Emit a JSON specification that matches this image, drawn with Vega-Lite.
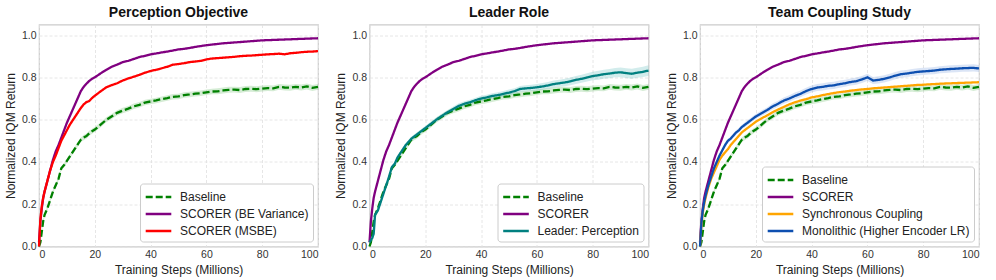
{
  "$schema": "https://vega.github.io/schema/vega-lite/v6.json",
  "padding": {"left": 3, "top": 4.5, "right": 14, "bottom": 2},
  "spacing": 51.5,
  "bounds": "flush",
  "config": {
    "font": "Liberation Sans",
    "view": {"stroke": "#cccccc", "strokeWidth": 1.2},
    "axis": {
      "grid": true, "gridColor": "#e0e0e0", "gridDash": [3, 2], "gridWidth": 0.8,
      "domain": false, "ticks": false, "labelFontSize": 10.5, "labelColor": "#333333",
      "labelPadding": 3, "titleFontSize": 12, "titleFontWeight": "normal", "titleColor": "#222222"
    },
    "title": {"fontSize": 14, "fontWeight": "bold", "color": "#111111", "offset": 5},
    "legend": {
      "orient": "bottom-right", "offset": 5, "fillColor": "white", "strokeColor": "#cccccc",
      "cornerRadius": 3, "padding": 4, "labelFontSize": 12, "labelColor": "#222222",
      "symbolType": "M-1.6,0H1.6", "symbolSize": 256, "symbolStrokeWidth": 2.5, "rowPadding": 1,
      "symbolOffset": 5, "labelOffset": 12, "title": null, "labelLimit": 250
    }
  },
  "datasets": {
    "d": [
      {"x":0,"base":0,"bl":0,"bh":0.005,"scorer":0.02,"msbe":0,"leader":0.02,"ll":0.015,"lh":0.025,"sync":0,"mono":0,"ml":0,"mh":0.006},
      {"x":0.5,"base":0.02,"bl":0.012,"bh":0.028,"scorer":0.12,"msbe":0.13,"leader":0.03,"ll":0.022,"lh":0.038,"sync":0.1,"mono":0.11,"ml":0.1,"mh":0.12},
      {"x":1,"base":0.07,"bl":0.06,"bh":0.08,"scorer":0.18,"msbe":0.19,"leader":0.04,"ll":0.03,"lh":0.05,"sync":0.16,"mono":0.17,"ml":0.16,"mh":0.18},
      {"x":1.5,"base":0.12,"bl":0.11,"bh":0.13,"scorer":0.23,"msbe":0.23,"leader":0.06,"ll":0.05,"lh":0.07,"sync":0.2,"mono":0.21,"ml":0.2,"mh":0.22},
      {"x":2,"base":0.15,"bl":0.14,"bh":0.16,"scorer":0.26,"msbe":0.26,"leader":0.15,"ll":0.14,"lh":0.16,"sync":0.23,"mono":0.24,"ml":0.23,"mh":0.25},
      {"x":3,"base":0.18,"bl":0.17,"bh":0.19,"scorer":0.31,"msbe":0.31,"leader":0.17,"ll":0.16,"lh":0.18,"sync":0.28,"mono":0.29,"ml":0.28,"mh":0.3},
      {"x":4,"base":0.22,"bl":0.21,"bh":0.23,"scorer":0.36,"msbe":0.36,"leader":0.21,"ll":0.2,"lh":0.22,"sync":0.32,"mono":0.33,"ml":0.32,"mh":0.34},
      {"x":5,"base":0.26,"bl":0.25,"bh":0.27,"scorer":0.41,"msbe":0.4,"leader":0.25,"ll":0.24,"lh":0.26,"sync":0.35,"mono":0.37,"ml":0.36,"mh":0.38},
      {"x":6,"base":0.29,"bl":0.28,"bh":0.3,"scorer":0.45,"msbe":0.43,"leader":0.29,"ll":0.28,"lh":0.3,"sync":0.38,"mono":0.4,"ml":0.39,"mh":0.41},
      {"x":7,"base":0.32,"bl":0.31,"bh":0.33,"scorer":0.48,"msbe":0.465,"leader":0.33,"ll":0.32,"lh":0.34,"sync":0.41,"mono":0.43,"ml":0.42,"mh":0.44},
      {"x":8,"base":0.37,"bl":0.36,"bh":0.38,"scorer":0.515,"msbe":0.5,"leader":0.375,"ll":0.365,"lh":0.385,"sync":0.43,"mono":0.455,"ml":0.445,"mh":0.465},
      {"x":9,"base":0.385,"bl":0.375,"bh":0.395,"scorer":0.55,"msbe":0.525,"leader":0.39,"ll":0.38,"lh":0.4,"sync":0.445,"mono":0.48,"ml":0.47,"mh":0.49},
      {"x":10,"base":0.405,"bl":0.395,"bh":0.415,"scorer":0.585,"msbe":0.55,"leader":0.42,"ll":0.41,"lh":0.43,"sync":0.46,"mono":0.5,"ml":0.49,"mh":0.51},
      {"x":11,"base":0.425,"bl":0.414,"bh":0.436,"scorer":0.615,"msbe":0.575,"leader":0.44,"ll":0.43,"lh":0.45,"sync":0.48,"mono":0.51,"ml":0.5,"mh":0.52},
      {"x":12,"base":0.445,"bl":0.434,"bh":0.456,"scorer":0.645,"msbe":0.595,"leader":0.46,"ll":0.45,"lh":0.47,"sync":0.495,"mono":0.525,"ml":0.514,"mh":0.536},
      {"x":13,"base":0.465,"bl":0.454,"bh":0.476,"scorer":0.675,"msbe":0.615,"leader":0.48,"ll":0.47,"lh":0.49,"sync":0.51,"mono":0.54,"ml":0.529,"mh":0.551},
      {"x":14,"base":0.485,"bl":0.474,"bh":0.496,"scorer":0.705,"msbe":0.635,"leader":0.495,"ll":0.485,"lh":0.505,"sync":0.525,"mono":0.55,"ml":0.539,"mh":0.561},
      {"x":15,"base":0.505,"bl":0.494,"bh":0.516,"scorer":0.735,"msbe":0.655,"leader":0.51,"ll":0.5,"lh":0.52,"sync":0.54,"mono":0.565,"ml":0.554,"mh":0.576},
      {"x":16,"base":0.515,"bl":0.503,"bh":0.527,"scorer":0.755,"msbe":0.672,"leader":0.52,"ll":0.51,"lh":0.53,"sync":0.55,"mono":0.575,"ml":0.563,"mh":0.587},
      {"x":17,"base":0.522,"bl":0.51,"bh":0.534,"scorer":0.77,"msbe":0.683,"leader":0.53,"ll":0.52,"lh":0.54,"sync":0.56,"mono":0.585,"ml":0.573,"mh":0.597},
      {"x":18,"base":0.535,"bl":0.523,"bh":0.547,"scorer":0.783,"msbe":0.688,"leader":0.54,"ll":0.53,"lh":0.55,"sync":0.57,"mono":0.595,"ml":0.583,"mh":0.607},
      {"x":19,"base":0.545,"bl":0.533,"bh":0.557,"scorer":0.793,"msbe":0.702,"leader":0.55,"ll":0.54,"lh":0.56,"sync":0.58,"mono":0.605,"ml":0.593,"mh":0.617},
      {"x":20,"base":0.553,"bl":0.541,"bh":0.565,"scorer":0.8,"msbe":0.713,"leader":0.56,"ll":0.55,"lh":0.57,"sync":0.59,"mono":0.615,"ml":0.603,"mh":0.627},
      {"x":22,"base":0.575,"bl":0.563,"bh":0.587,"scorer":0.818,"msbe":0.733,"leader":0.58,"ll":0.569,"lh":0.591,"sync":0.605,"mono":0.63,"ml":0.617,"mh":0.643},
      {"x":24,"base":0.598,"bl":0.586,"bh":0.61,"scorer":0.835,"msbe":0.752,"leader":0.6,"ll":0.589,"lh":0.611,"sync":0.62,"mono":0.645,"ml":0.632,"mh":0.658},
      {"x":26,"base":0.615,"bl":0.603,"bh":0.627,"scorer":0.85,"msbe":0.763,"leader":0.618,"ll":0.607,"lh":0.629,"sync":0.635,"mono":0.662,"ml":0.648,"mh":0.676},
      {"x":28,"base":0.632,"bl":0.62,"bh":0.644,"scorer":0.86,"msbe":0.772,"leader":0.635,"ll":0.624,"lh":0.646,"sync":0.648,"mono":0.675,"ml":0.661,"mh":0.689},
      {"x":30,"base":0.643,"bl":0.63,"bh":0.656,"scorer":0.872,"msbe":0.785,"leader":0.65,"ll":0.638,"lh":0.662,"sync":0.66,"mono":0.69,"ml":0.675,"mh":0.705},
      {"x":32,"base":0.652,"bl":0.639,"bh":0.665,"scorer":0.878,"msbe":0.795,"leader":0.665,"ll":0.653,"lh":0.677,"sync":0.672,"mono":0.7,"ml":0.685,"mh":0.715},
      {"x":34,"base":0.663,"bl":0.65,"bh":0.676,"scorer":0.887,"msbe":0.803,"leader":0.675,"ll":0.663,"lh":0.687,"sync":0.682,"mono":0.712,"ml":0.696,"mh":0.728},
      {"x":36,"base":0.67,"bl":0.657,"bh":0.683,"scorer":0.896,"msbe":0.812,"leader":0.682,"ll":0.67,"lh":0.694,"sync":0.69,"mono":0.722,"ml":0.706,"mh":0.738},
      {"x":38,"base":0.681,"bl":0.668,"bh":0.694,"scorer":0.902,"msbe":0.822,"leader":0.692,"ll":0.68,"lh":0.704,"sync":0.697,"mono":0.735,"ml":0.719,"mh":0.751},
      {"x":40,"base":0.686,"bl":0.673,"bh":0.699,"scorer":0.909,"msbe":0.83,"leader":0.7,"ll":0.687,"lh":0.713,"sync":0.705,"mono":0.745,"ml":0.728,"mh":0.762},
      {"x":42,"base":0.691,"bl":0.678,"bh":0.704,"scorer":0.913,"msbe":0.836,"leader":0.705,"ll":0.692,"lh":0.718,"sync":0.71,"mono":0.752,"ml":0.735,"mh":0.769},
      {"x":44,"base":0.697,"bl":0.684,"bh":0.71,"scorer":0.918,"msbe":0.843,"leader":0.712,"ll":0.699,"lh":0.725,"sync":0.716,"mono":0.755,"ml":0.738,"mh":0.772},
      {"x":46,"base":0.702,"bl":0.689,"bh":0.715,"scorer":0.922,"msbe":0.85,"leader":0.716,"ll":0.702,"lh":0.73,"sync":0.721,"mono":0.76,"ml":0.743,"mh":0.777},
      {"x":48,"base":0.708,"bl":0.695,"bh":0.721,"scorer":0.927,"msbe":0.86,"leader":0.722,"ll":0.708,"lh":0.736,"sync":0.726,"mono":0.762,"ml":0.745,"mh":0.779},
      {"x":50,"base":0.71,"bl":0.697,"bh":0.723,"scorer":0.932,"msbe":0.863,"leader":0.728,"ll":0.714,"lh":0.742,"sync":0.73,"mono":0.768,"ml":0.751,"mh":0.785},
      {"x":52,"base":0.716,"bl":0.703,"bh":0.729,"scorer":0.935,"msbe":0.867,"leader":0.735,"ll":0.721,"lh":0.749,"sync":0.733,"mono":0.772,"ml":0.755,"mh":0.789},
      {"x":54,"base":0.719,"bl":0.706,"bh":0.732,"scorer":0.939,"msbe":0.872,"leader":0.745,"ll":0.731,"lh":0.759,"sync":0.737,"mono":0.778,"ml":0.761,"mh":0.795},
      {"x":56,"base":0.723,"bl":0.71,"bh":0.736,"scorer":0.944,"msbe":0.875,"leader":0.748,"ll":0.733,"lh":0.763,"sync":0.74,"mono":0.782,"ml":0.765,"mh":0.799},
      {"x":58,"base":0.725,"bl":0.712,"bh":0.738,"scorer":0.948,"msbe":0.878,"leader":0.75,"ll":0.735,"lh":0.765,"sync":0.743,"mono":0.79,"ml":0.773,"mh":0.807},
      {"x":60,"base":0.729,"bl":0.716,"bh":0.742,"scorer":0.952,"msbe":0.885,"leader":0.753,"ll":0.738,"lh":0.768,"sync":0.745,"mono":0.8,"ml":0.783,"mh":0.817},
      {"x":62,"base":0.733,"bl":0.72,"bh":0.746,"scorer":0.955,"msbe":0.889,"leader":0.757,"ll":0.741,"lh":0.773,"sync":0.748,"mono":0.785,"ml":0.768,"mh":0.802},
      {"x":64,"base":0.734,"bl":0.72,"bh":0.748,"scorer":0.958,"msbe":0.891,"leader":0.762,"ll":0.746,"lh":0.778,"sync":0.75,"mono":0.788,"ml":0.771,"mh":0.805},
      {"x":66,"base":0.738,"bl":0.724,"bh":0.752,"scorer":0.961,"msbe":0.893,"leader":0.768,"ll":0.751,"lh":0.785,"sync":0.752,"mono":0.793,"ml":0.776,"mh":0.81},
      {"x":68,"base":0.741,"bl":0.727,"bh":0.755,"scorer":0.963,"msbe":0.895,"leader":0.772,"ll":0.755,"lh":0.789,"sync":0.754,"mono":0.8,"ml":0.783,"mh":0.817},
      {"x":70,"base":0.742,"bl":0.728,"bh":0.756,"scorer":0.965,"msbe":0.897,"leader":0.776,"ll":0.758,"lh":0.794,"sync":0.756,"mono":0.808,"ml":0.791,"mh":0.825},
      {"x":72,"base":0.74,"bl":0.726,"bh":0.754,"scorer":0.967,"msbe":0.9,"leader":0.781,"ll":0.763,"lh":0.799,"sync":0.758,"mono":0.815,"ml":0.798,"mh":0.832},
      {"x":74,"base":0.745,"bl":0.731,"bh":0.759,"scorer":0.969,"msbe":0.902,"leader":0.788,"ll":0.769,"lh":0.807,"sync":0.76,"mono":0.818,"ml":0.801,"mh":0.835},
      {"x":76,"base":0.746,"bl":0.732,"bh":0.76,"scorer":0.971,"msbe":0.903,"leader":0.793,"ll":0.774,"lh":0.812,"sync":0.762,"mono":0.822,"ml":0.805,"mh":0.839},
      {"x":78,"base":0.744,"bl":0.73,"bh":0.758,"scorer":0.973,"msbe":0.905,"leader":0.8,"ll":0.78,"lh":0.82,"sync":0.764,"mono":0.826,"ml":0.809,"mh":0.843},
      {"x":80,"base":0.747,"bl":0.733,"bh":0.761,"scorer":0.975,"msbe":0.907,"leader":0.806,"ll":0.786,"lh":0.826,"sync":0.765,"mono":0.828,"ml":0.811,"mh":0.845},
      {"x":82,"base":0.749,"bl":0.735,"bh":0.763,"scorer":0.976,"msbe":0.909,"leader":0.81,"ll":0.789,"lh":0.831,"sync":0.767,"mono":0.83,"ml":0.813,"mh":0.847},
      {"x":84,"base":0.748,"bl":0.734,"bh":0.762,"scorer":0.977,"msbe":0.91,"leader":0.815,"ll":0.794,"lh":0.836,"sync":0.768,"mono":0.832,"ml":0.815,"mh":0.849},
      {"x":86,"base":0.755,"bl":0.741,"bh":0.769,"scorer":0.978,"msbe":0.912,"leader":0.818,"ll":0.796,"lh":0.84,"sync":0.77,"mono":0.836,"ml":0.819,"mh":0.853},
      {"x":88,"base":0.752,"bl":0.738,"bh":0.766,"scorer":0.979,"msbe":0.909,"leader":0.822,"ll":0.8,"lh":0.844,"sync":0.771,"mono":0.838,"ml":0.821,"mh":0.855},
      {"x":90,"base":0.751,"bl":0.737,"bh":0.765,"scorer":0.98,"msbe":0.914,"leader":0.824,"ll":0.801,"lh":0.847,"sync":0.772,"mono":0.84,"ml":0.823,"mh":0.857},
      {"x":92,"base":0.755,"bl":0.741,"bh":0.769,"scorer":0.981,"msbe":0.916,"leader":0.82,"ll":0.797,"lh":0.843,"sync":0.773,"mono":0.841,"ml":0.824,"mh":0.858},
      {"x":94,"base":0.752,"bl":0.738,"bh":0.766,"scorer":0.982,"msbe":0.919,"leader":0.817,"ll":0.793,"lh":0.841,"sync":0.774,"mono":0.843,"ml":0.826,"mh":0.86},
      {"x":96,"base":0.757,"bl":0.743,"bh":0.771,"scorer":0.983,"msbe":0.921,"leader":0.822,"ll":0.798,"lh":0.846,"sync":0.775,"mono":0.844,"ml":0.827,"mh":0.861},
      {"x":98,"base":0.75,"bl":0.736,"bh":0.764,"scorer":0.984,"msbe":0.922,"leader":0.826,"ll":0.802,"lh":0.85,"sync":0.776,"mono":0.845,"ml":0.828,"mh":0.862},
      {"x":100,"base":0.755,"bl":0.741,"bh":0.769,"scorer":0.985,"msbe":0.924,"leader":0.832,"ll":0.807,"lh":0.857,"sync":0.777,"mono":0.842,"ml":0.825,"mh":0.859}
    ]
  },
  "hconcat": [
    {
      "width": 279, "height": 222,
      "title": "Perception Objective",
      "data": {"name": "d"},
      "layer": [
        {
          "mark": {"type": "area", "color": "#2ca02c", "opacity": 0.2},
          "encoding": {
            "x": {"field": "x", "type": "quantitative", "scale": {"domain": [0, 100], "nice": false}, "axis": {"title": "Training Steps (Millions)", "values": [0, 20, 40, 60, 80, 100]}},
            "y": {"field": "bl", "type": "quantitative", "scale": {"domain": [0, 1.05], "nice": false}, "axis": {"title": "Normalized IQM Return", "values": [0, 0.2, 0.4, 0.6, 0.8, 1.0], "format": ".1f"}},
            "y2": {"field": "bh"}
          }
        },
        {
          "transform": [{"fold": ["base", "scorer", "msbe"], "as": ["s", "v"]}],
          "mark": {"type": "line", "strokeWidth": 2.3},
          "encoding": {
            "x": {"field": "x", "type": "quantitative"},
            "y": {"field": "v", "type": "quantitative"},
            "color": {"field": "s", "type": "nominal", "scale": {"domain": ["base", "scorer", "msbe"], "range": ["#008000", "#800080", "#ff0000"]},
              "legend": {"labelExpr": "datum.label == 'base' ? 'Baseline' : datum.label == 'scorer' ? 'SCORER (BE Variance)' : 'SCORER (MSBE)'"}},
            "strokeDash": {"field": "s", "type": "nominal", "scale": {"domain": ["base", "scorer", "msbe"], "range": [[7, 3], [1, 0], [1, 0]]},
              "legend": {"labelExpr": "datum.label == 'base' ? 'Baseline' : datum.label == 'scorer' ? 'SCORER (BE Variance)' : 'SCORER (MSBE)'"}}
          }
        }
      ]
    },
    {
      "width": 279, "height": 222,
      "title": "Leader Role",
      "data": {"name": "d"},
      "layer": [
        {
          "mark": {"type": "area", "color": "#2ca02c", "opacity": 0.2},
          "encoding": {
            "x": {"field": "x", "type": "quantitative", "scale": {"domain": [0, 100], "nice": false}, "axis": {"title": "Training Steps (Millions)", "values": [0, 20, 40, 60, 80, 100]}},
            "y": {"field": "bl", "type": "quantitative", "scale": {"domain": [0, 1.05], "nice": false}, "axis": {"title": "Normalized IQM Return", "values": [0, 0.2, 0.4, 0.6, 0.8, 1.0], "format": ".1f"}},
            "y2": {"field": "bh"}
          }
        },
        {
          "mark": {"type": "area", "color": "#20a0a0", "opacity": 0.2},
          "encoding": {
            "x": {"field": "x", "type": "quantitative"},
            "y": {"field": "ll", "type": "quantitative"},
            "y2": {"field": "lh"}
          }
        },
        {
          "transform": [{"fold": ["base", "scorer", "leader"], "as": ["s", "v"]}],
          "mark": {"type": "line", "strokeWidth": 2.3},
          "encoding": {
            "x": {"field": "x", "type": "quantitative"},
            "y": {"field": "v", "type": "quantitative"},
            "color": {"field": "s", "type": "nominal", "scale": {"domain": ["base", "scorer", "leader"], "range": ["#008000", "#800080", "#008080"]},
              "legend": {"labelExpr": "datum.label == 'base' ? 'Baseline' : datum.label == 'scorer' ? 'SCORER' : 'Leader: Perception'"}},
            "strokeDash": {"field": "s", "type": "nominal", "scale": {"domain": ["base", "scorer", "leader"], "range": [[7, 3], [1, 0], [1, 0]]},
              "legend": {"labelExpr": "datum.label == 'base' ? 'Baseline' : datum.label == 'scorer' ? 'SCORER' : 'Leader: Perception'"}}
          }
        }
      ]
    },
    {
      "width": 279, "height": 222,
      "title": "Team Coupling Study",
      "data": {"name": "d"},
      "layer": [
        {
          "mark": {"type": "area", "color": "#2ca02c", "opacity": 0.2},
          "encoding": {
            "x": {"field": "x", "type": "quantitative", "scale": {"domain": [0, 100], "nice": false}, "axis": {"title": "Training Steps (Millions)", "values": [0, 20, 40, 60, 80, 100]}},
            "y": {"field": "bl", "type": "quantitative", "scale": {"domain": [0, 1.05], "nice": false}, "axis": {"title": "Normalized IQM Return", "values": [0, 0.2, 0.4, 0.6, 0.8, 1.0], "format": ".1f"}},
            "y2": {"field": "bh"}
          }
        },
        {
          "mark": {"type": "area", "color": "#4a7fd0", "opacity": 0.2},
          "encoding": {
            "x": {"field": "x", "type": "quantitative"},
            "y": {"field": "ml", "type": "quantitative"},
            "y2": {"field": "mh"}
          }
        },
        {
          "transform": [{"fold": ["base", "scorer", "sync", "mono"], "as": ["s", "v"]}],
          "mark": {"type": "line", "strokeWidth": 2.3},
          "encoding": {
            "x": {"field": "x", "type": "quantitative"},
            "y": {"field": "v", "type": "quantitative"},
            "color": {"field": "s", "type": "nominal", "scale": {"domain": ["base", "scorer", "sync", "mono"], "range": ["#008000", "#800080", "#ffa500", "#0d4fb0"]},
              "legend": {"labelExpr": "datum.label == 'base' ? 'Baseline' : datum.label == 'scorer' ? 'SCORER' : datum.label == 'sync' ? 'Synchronous Coupling' : 'Monolithic (Higher Encoder LR)'"}},
            "strokeDash": {"field": "s", "type": "nominal", "scale": {"domain": ["base", "scorer", "sync", "mono"], "range": [[7, 3], [1, 0], [1, 0], [1, 0]]},
              "legend": {"labelExpr": "datum.label == 'base' ? 'Baseline' : datum.label == 'scorer' ? 'SCORER' : datum.label == 'sync' ? 'Synchronous Coupling' : 'Monolithic (Higher Encoder LR)'"}}
          }
        }
      ]
    }
  ],
  "resolve": {"scale": {"color": "independent", "strokeDash": "independent"}}
}
